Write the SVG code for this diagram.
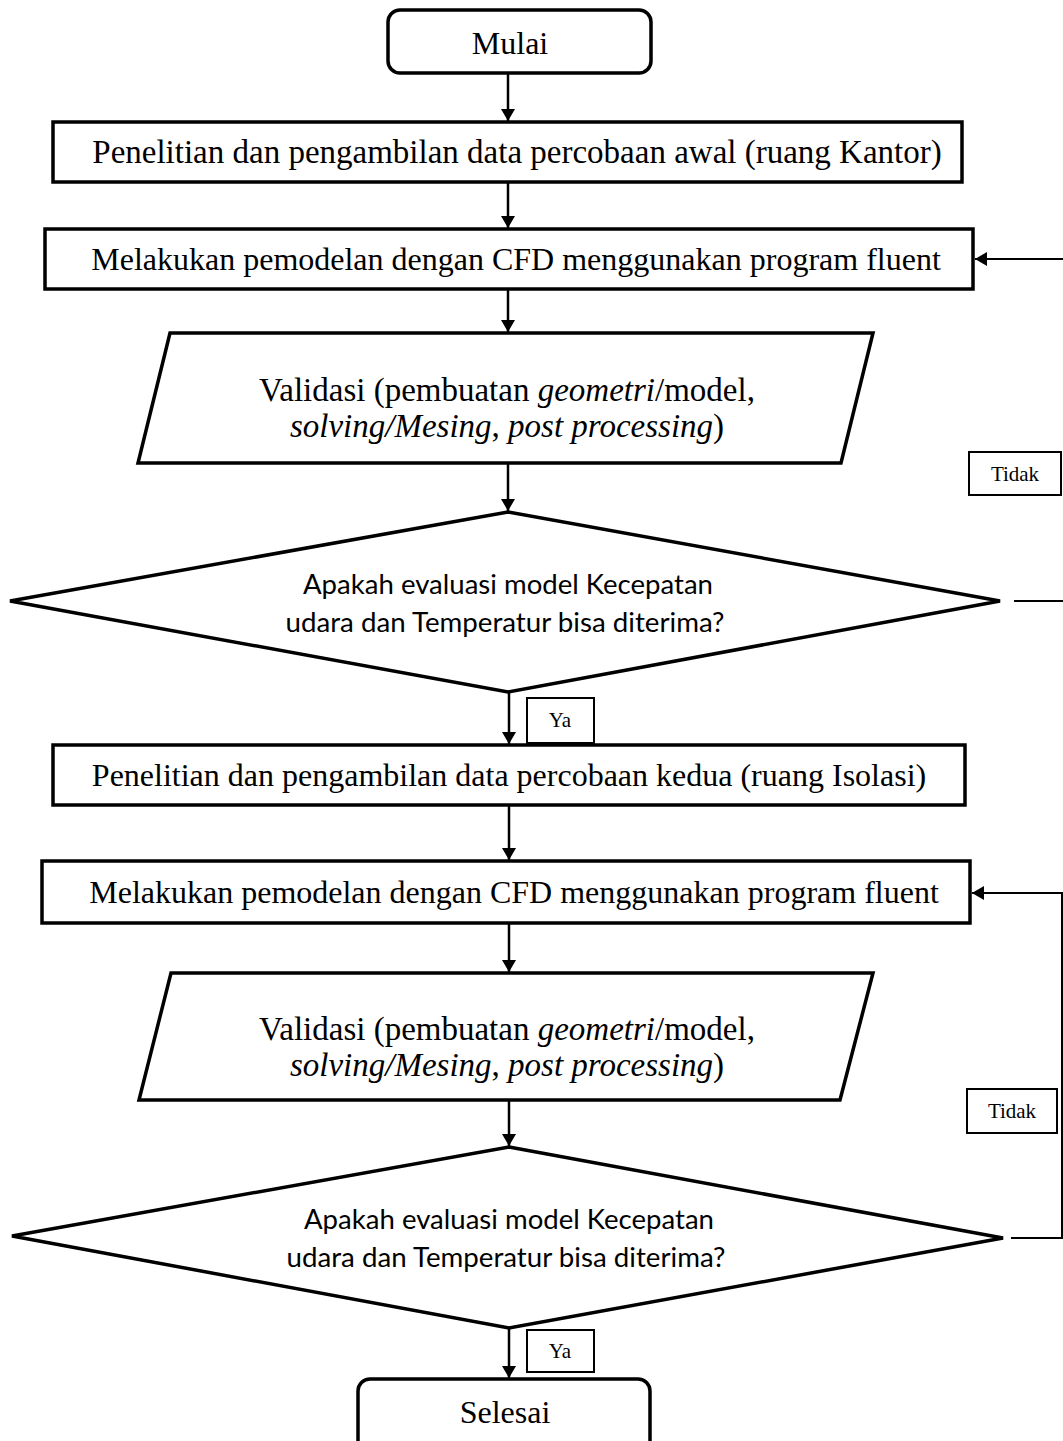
<svg xmlns="http://www.w3.org/2000/svg" width="1063" height="1441" viewBox="0 0 1063 1441">
<style>
.shape{fill:#fff;stroke:#000;stroke-width:3.5}
.lbl{fill:#fff;stroke:#000;stroke-width:2}
.t{font-family:"Liberation Serif","Times New Roman",serif;font-size:33px;fill:#000;text-anchor:middle}
.m{font-family:"Liberation Serif","Times New Roman",serif;font-size:32px;fill:#000;text-anchor:middle}
.s{font-family:"Liberation Serif","Times New Roman",serif;font-size:21px;fill:#000;text-anchor:middle}
.d{font-family:Lato,"Open Sans",sans-serif;font-size:27px;fill:#000;text-anchor:middle}
.c{fill:none;stroke:#000;stroke-width:2.5}
.loop{fill:none;stroke:#000;stroke-width:2}
</style>
<defs>
<marker id="ah" viewBox="0 0 12 14" refX="12" refY="7" markerWidth="12" markerHeight="14" markerUnits="userSpaceOnUse" orient="auto">
<path d="M0,0 L12,7 L0,14 Z" fill="#000"/>
</marker>
</defs>
<g id="connectors">
<line class="c" x1="508" y1="73" x2="508" y2="121" marker-end="url(#ah)"/>
<line class="c" x1="508" y1="182" x2="508" y2="228" marker-end="url(#ah)"/>
<line class="c" x1="508" y1="289" x2="508" y2="332" marker-end="url(#ah)"/>
<line class="c" x1="508" y1="463" x2="508" y2="511" marker-end="url(#ah)"/>
<line class="c" x1="509" y1="692" x2="509" y2="744" marker-end="url(#ah)"/>
<line class="c" x1="509" y1="805" x2="509" y2="860" marker-end="url(#ah)"/>
<line class="c" x1="509" y1="923" x2="509" y2="972" marker-end="url(#ah)"/>
<line class="c" x1="509" y1="1100" x2="509" y2="1146" marker-end="url(#ah)"/>
<line class="c" x1="509" y1="1328" x2="509" y2="1378" marker-end="url(#ah)"/>
<line class="loop" x1="1014" y1="601" x2="1063" y2="601"/>
<line class="loop" x1="1063" y1="259" x2="975" y2="259" marker-end="url(#ah)"/>
<polyline class="loop" points="1011,1238 1062,1238 1062,893 972,893" marker-end="url(#ah)"/>
</g>
<g id="mulai">
<rect class="shape" x="388" y="10" width="263" height="63" rx="12"/>
<text class="m" x="510" y="54">Mulai</text>
</g>
<g id="box1">
<rect class="shape" x="53" y="122" width="909" height="60"/>
<text class="t" x="517" y="163">Penelitian dan pengambilan data percobaan awal (ruang Kantor)</text>
</g>
<g id="box2">
<rect class="shape" x="45" y="229" width="928" height="60"/>
<text class="m" x="516" y="270">Melakukan pemodelan dengan CFD menggunakan program fluent</text>
</g>
<g id="validasi1">
<polygon class="shape" points="170,333 873,333 841,463 138,463"/>
<text class="t" x="507" y="401">Validasi (pembuatan <tspan font-style="italic">geometri</tspan>/model,</text>
<text class="t" x="507" y="437"><tspan font-style="italic">solving/Mesing</tspan>, <tspan font-style="italic">post processing</tspan>)</text>
</g>
<g id="decision1">
<polygon class="shape" points="508,512 1000,601 508,692 10,601"/>
<text class="d" x="508" y="594" textLength="410" lengthAdjust="spacingAndGlyphs">Apakah evaluasi model Kecepatan</text>
<text class="d" x="505" y="632" textLength="439" lengthAdjust="spacingAndGlyphs">udara dan Temperatur bisa diterima?</text>
</g>
<g id="tidak1">
<rect class="lbl" x="969" y="452" width="92" height="43"/>
<text class="s" x="1015" y="481">Tidak</text>
</g>
<g id="ya1">
<rect class="lbl" x="527" y="698" width="67" height="45"/>
<text class="s" x="560" y="727">Ya</text>
</g>
<g id="box3">
<rect class="shape" x="53" y="745" width="912" height="60"/>
<text class="m" x="509" y="786">Penelitian dan pengambilan data percobaan kedua (ruang Isolasi)</text>
</g>
<g id="box4">
<rect class="shape" x="42" y="861" width="928" height="62"/>
<text class="m" x="514" y="903">Melakukan pemodelan dengan CFD menggunakan program fluent</text>
</g>
<g id="validasi2">
<polygon class="shape" points="171,973 873,973 840,1100 139,1100"/>
<text class="t" x="507" y="1040">Validasi (pembuatan <tspan font-style="italic">geometri</tspan>/model,</text>
<text class="t" x="507" y="1076"><tspan font-style="italic">solving/Mesing</tspan>, <tspan font-style="italic">post processing</tspan>)</text>
</g>
<g id="decision2">
<polygon class="shape" points="509,1147 1003,1238 509,1328 12,1236"/>
<text class="d" x="509" y="1229" textLength="410" lengthAdjust="spacingAndGlyphs">Apakah evaluasi model Kecepatan</text>
<text class="d" x="506" y="1267" textLength="439" lengthAdjust="spacingAndGlyphs">udara dan Temperatur bisa diterima?</text>
</g>
<g id="tidak2">
<rect class="lbl" x="967" y="1089" width="90" height="44"/>
<text class="s" x="1012" y="1118">Tidak</text>
</g>
<g id="ya2">
<rect class="lbl" x="527" y="1330" width="67" height="42"/>
<text class="s" x="560" y="1358">Ya</text>
</g>
<g id="selesai">
<rect class="shape" x="358" y="1379" width="292" height="90" rx="12"/>
<text class="m" x="505" y="1423">Selesai</text>
</g>
</svg>
